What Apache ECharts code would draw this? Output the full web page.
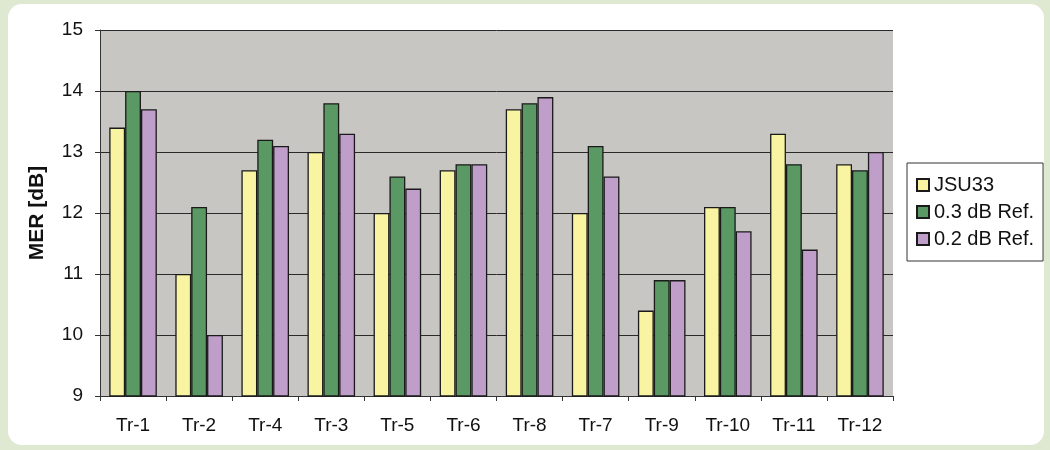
<!DOCTYPE html>
<html><head><meta charset="utf-8">
<script src="https://cdn.jsdelivr.net/npm/echarts@6/dist/echarts.min.js"></script>
<style>html,body{margin:0;padding:0;background:#dfe9d2;}#c{width:1050px;height:450px;}</style>
</head><body><div id="c"></div>
<script>
const categories = ['Tr-1','Tr-2','Tr-4','Tr-3','Tr-5','Tr-6','Tr-8','Tr-7','Tr-9','Tr-10','Tr-11','Tr-12'];
const jsu33 = [13.4, 11.0, 12.7, 13.0, 12.0, 12.7, 13.7, 12.0, 10.4, 12.1, 13.3, 12.8];
const ref03 = [14.0, 12.1, 13.2, 13.8, 12.6, 12.8, 13.8, 13.1, 10.9, 12.1, 12.8, 12.7];
const ref02 = [13.7, 10.0, 13.1, 13.3, 12.4, 12.8, 13.9, 12.6, 10.9, 11.7, 11.4, 13.0];
const seriesNames = ['JSU33', '0.3 dB Ref.', '0.2 dB Ref.'];

const chart = echarts.init(document.getElementById('c'));
const font = 'Liberation Sans, Arial, sans-serif';
const bar = (name, data, color) => ({
  name, type: 'bar', data, barGap: '0%', barCategoryGap: '28%',
  itemStyle: { color, borderColor: '#1a1a1a', borderWidth: 1.3 }
});
chart.setOption({
  backgroundColor: '#dfe9d2',
  animation: false,
  graphic: [{ type: 'rect', z: -10, shape: { x: 8, y: 4, width: 1036, height: 441, r: 14 }, style: { fill: '#ffffff' } }],
  grid: { left: 100, right: 157, top: 30, bottom: 54, show: true, backgroundColor: '#c8c6c3', borderWidth: 0 },
  legend: {
    orient: 'vertical', left: 907, top: 163, itemWidth: 12, itemHeight: 12, itemGap: 7,
    padding: [12, 9, 12, 9], borderColor: '#333', borderWidth: 1, backgroundColor: '#fff',
    textStyle: { fontFamily: font, fontSize: 20, color: '#111' },
    data: seriesNames.map(n => ({ name: n, icon: 'rect' }))
  },
  xAxis: {
    type: 'category', data: categories,
    axisLine: { lineStyle: { color: '#333' } },
    axisTick: { show: true, length: 5, lineStyle: { color: '#333' } },
    axisLabel: { fontFamily: font, fontSize: 19, color: '#111', margin: 20 }
  },
  yAxis: {
    type: 'value', min: 9, max: 15, interval: 1,
    name: 'MER [dB]', nameLocation: 'middle', nameGap: 52, nameRotate: 90,
    nameTextStyle: { fontFamily: font, fontSize: 21, fontWeight: 'bold', color: '#111' },
    axisLine: { show: true, lineStyle: { color: '#333' } },
    axisTick: { show: true, length: 5, lineStyle: { color: '#333' } },
    axisLabel: { fontFamily: font, fontSize: 19, color: '#111', margin: 17 },
    splitLine: { lineStyle: { color: '#2a2a2a', width: 1 } }
  },
  series: [
    bar(seriesNames[0], jsu33, '#f8f4a2'),
    bar(seriesNames[1], ref03, '#5a9963'),
    bar(seriesNames[2], ref02, '#bf9fca')
  ]
});
</script></body></html>
